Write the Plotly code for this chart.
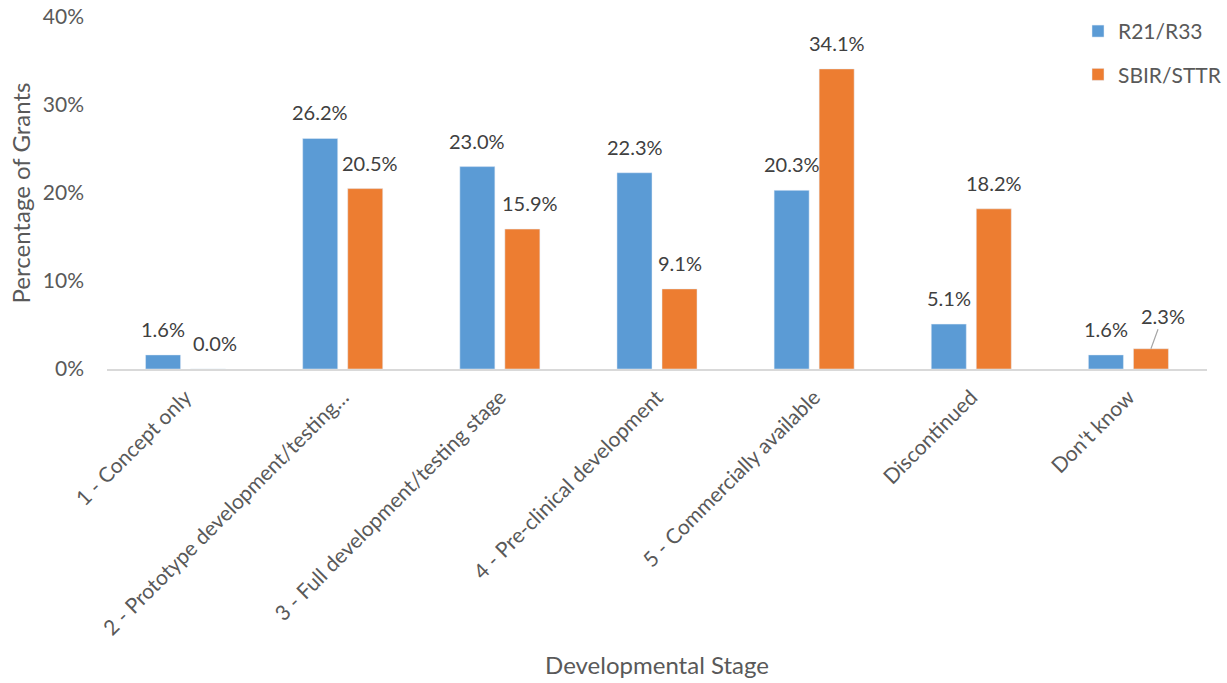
import plotly.graph_objects as go

# Developmental stage of funded projects, share of grants by mechanism
stages = [
    "1 - Concept only",
    "2 - Prototype development/testing…",
    "3 - Full development/testing stage",
    "4 - Pre-clinical development",
    "5 - Commercially available",
    "Discontinued",
    "Don't know",
]
r21_r33 = [1.6, 26.2, 23.0, 22.3, 20.3, 5.1, 1.6]
sbir_sttr = [0.0, 20.5, 15.9, 9.1, 34.1, 18.2, 2.3]
y_ticks = [0, 10, 20, 30, 40]
y_tick_text = [f"{v}%" for v in y_ticks]

BLUE = "#5B9BD5"
ORANGE = "#ED7D31"
AXIS_TEXT = "#595959"
LABEL_TEXT = "#404040"
FONT = "Lato, 'Open Sans', sans-serif"

fig = go.Figure()
fig.add_trace(go.Bar(name="R21/R33", x=stages, y=r21_r33, marker_color=BLUE,
                     legendgroup="a", hoverinfo="skip"))
fig.add_trace(go.Bar(name="SBIR/STTR", x=stages, y=sbir_sttr, marker_color=ORANGE,
                     legendgroup="b", hoverinfo="skip"))

# value labels above each bar; a few SBIR labels are nudged right to clear their neighbours,
# and the small "Don't know" SBIR label sits off to the side with a leader line
BAR_OFFSET = 22.5
sbir_label_nudge = {0: 7, 1: 5, 2: 8}
for series, shift, nudge in ((r21_r33, -BAR_OFFSET, {}), (sbir_sttr, BAR_OFFSET, sbir_label_nudge)):
    for i, (cat, val) in enumerate(zip(stages, series)):
        txt = f"{val:.1f}%"
        if cat == "Don't know" and shift > 0:
            fig.add_annotation(x=cat, y=val, xshift=shift, text=txt, showarrow=True,
                               arrowhead=0, arrowwidth=1.2, arrowcolor="#A6A6A6",
                               ax=12, ay=-33, standoff=0,
                               font=dict(size=20, color=LABEL_TEXT, family=FONT))
        else:
            fig.add_annotation(x=cat, y=val, xshift=shift + nudge.get(i, 0), yshift=12,
                               text=txt, showarrow=False, yanchor="bottom",
                               font=dict(size=20, color=LABEL_TEXT, family=FONT))

fig.update_layout(
    width=1227, height=683,
    margin=dict(l=107, r=20, t=17, b=314, autoexpand=False),
    paper_bgcolor="white", plot_bgcolor="white",
    barmode="group", bargap=0.427, bargroupgap=0.222,
    font=dict(family=FONT, color=AXIS_TEXT, size=21),
    legend=dict(xref="container", yref="container",
                x=1.0, xanchor="right", y=0.984, yanchor="top",
                font=dict(size=21, color=AXIS_TEXT), tracegroupgap=13,
                bgcolor="rgba(0,0,0,0)"),
    xaxis=dict(
        tickangle=-45, showline=True, linecolor="#D9D9D9", linewidth=1.5,
        ticks="", showgrid=False, ticklabelstandoff=6,
        tickfont=dict(size=21, color=AXIS_TEXT),
        title=dict(text="Developmental Stage", standoff=19,
                   font=dict(size=24, color=AXIS_TEXT)),
    ),
    yaxis=dict(
        range=[0, 40], tickmode="array", tickvals=y_ticks, ticktext=y_tick_text,
        showgrid=False, zeroline=False, showline=False, ticklabelstandoff=22,
        tickfont=dict(size=21, color=AXIS_TEXT),
        title=dict(text="Percentage of Grants", standoff=5,
                   font=dict(size=24, color=AXIS_TEXT)),
    ),
)

fig.write_html("out.html")
